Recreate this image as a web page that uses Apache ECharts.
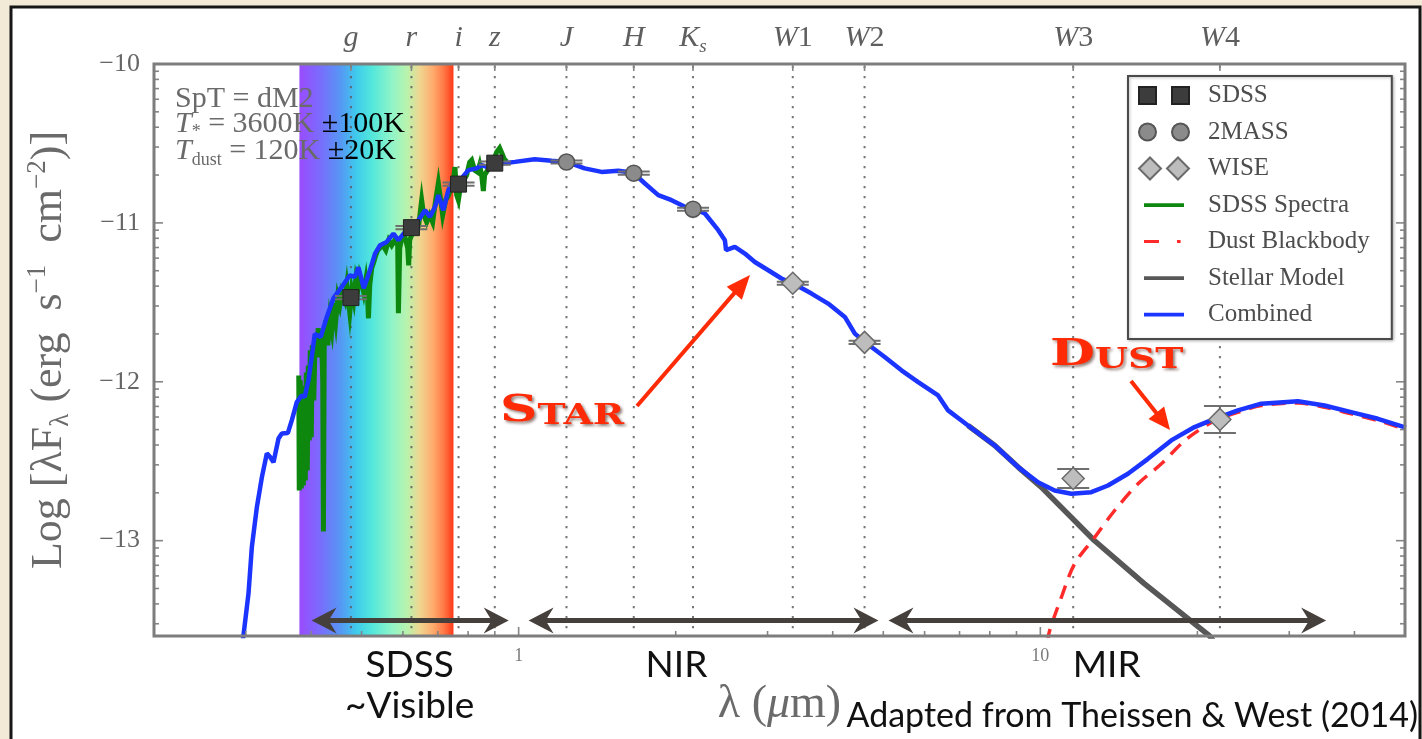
<!DOCTYPE html>
<html>
<head>
<meta charset="utf-8">
<script src="https://cdn.jsdelivr.net/npm/echarts@6/dist/echarts.min.js"></script>
<style>
  html, body { margin: 0; padding: 0; background: #f2e9d6; }
  #chart { width: 1422px; height: 739px; }
</style>
</head>
<body>
<div id="chart"></div>
<script>
// Spectral energy distribution of an M2 dwarf with a cold dust excess.
// Wavelengths in micron; fluxes are log10(lambda*F_lambda / erg s^-1 cm^-2).

const filterNames = ['g', 'r', 'i', 'z', 'J', 'H', 'Ks', 'W1', 'W2', 'W3', 'W4'];
const filterLam   = [0.477, 0.623, 0.767, 0.900, 1.235, 1.662, 2.159, 3.353, 4.603, 11.56, 22.09];

const sdssLam   = [0.477, 0.623, 0.767, 0.900];
const sdssFlux  = [-11.47, -11.03, -10.756, -10.624];
const sdssErr   = [0.01, 0.01, 0.01, 0.01];

const tmassLam  = [1.235, 1.662, 2.159];
const tmassFlux = [-10.617, -10.687, -10.914];
const tmassErr  = [0.01, 0.01, 0.01];

const wiseLam   = [3.353, 4.603, 11.56, 22.09];
const wiseFlux  = [-11.38, -11.752, -12.609, -12.237];
const wiseErr   = [0.01, 0.01, 0.06, 0.085];

// combined (stellar + dust) model
const combined = [
  [0.2960,-13.630],[0.3035,-13.333],[0.3080,-13.042],[0.3149,-12.790],[0.3220,-12.600],
  [0.3291,-12.451],[0.3334,-12.470],[0.3389,-12.506],[0.3465,-12.357],[0.3516,-12.325],
  [0.3610,-12.323],[0.3674,-12.243],[0.3756,-12.128],[0.3840,-12.086],[0.3890,-12.096],
  [0.3955,-11.991],[0.4067,-11.700],[0.4175,-11.718],[0.4288,-11.592],[0.4416,-11.474],
  [0.4581,-11.403],[0.4745,-11.330],[0.4851,-11.340],[0.4931,-11.279],[0.5048,-11.411],
  [0.5189,-11.298],[0.5305,-11.193],[0.5424,-11.141],[0.5586,-11.120],[0.5754,-11.067],
  [0.5882,-11.109],[0.6056,-11.057],[0.6237,-11.035],[0.6425,-10.983],[0.6614,-10.920],
  [0.6762,-10.962],[0.6913,-10.899],[0.7017,-10.825],[0.7173,-10.920],[0.7333,-10.794],
  [0.7497,-10.731],[0.7718,-10.731],[0.8010,-10.668],[0.8308,-10.657],[0.8494,-10.636],
  [0.8684,-10.647],[0.9007,-10.626],[0.9401,-10.624],[0.9837,-10.616],[1.073,-10.600],
  [1.157,-10.609],[1.236,-10.616],[1.338,-10.657],[1.442,-10.679],[1.552,-10.672],
  [1.659,-10.685],[1.746,-10.752],[1.852,-10.825],[1.964,-10.857],[2.083,-10.899],
  [2.167,-10.914],[2.275,-10.941],[2.413,-11.046],[2.485,-11.109],[2.498,-11.172],
  [2.597,-11.151],[2.714,-11.193],[2.836,-11.246],[3.009,-11.298],[3.190,-11.350],
  [3.359,-11.382],[3.642,-11.445],[3.920,-11.508],[4.219,-11.592],[4.410,-11.697],
  [4.608,-11.750],[5.031,-11.844],[5.417,-11.928],[5.832,-12.002],[6.368,-12.086],
  [6.655,-12.180],[7.268,-12.275],[8.178,-12.401],[9.065,-12.537],[9.899,-12.632],
  [10.65,-12.684],[11.47,-12.705],[12.52,-12.695],[13.48,-12.653],[14.72,-12.579],
  [16.08,-12.485],[17.82,-12.369],[19.75,-12.285],[21.58,-12.233],[23.91,-12.180],
  [26.51,-12.138],[31.17,-12.122],[35.05,-12.149],[39.43,-12.191],[44.37,-12.233],
  [50.2,-12.289]
];

// SDSS optical spectrum
const spectrum = [
  [0.3789,-11.960],[0.3797,-12.684],[0.3814,-11.991],[0.3831,-12.672],[0.3848,-12.054],
  [0.3866,-12.653],[0.3883,-12.023],[0.3900,-12.621],[0.3917,-11.941],[0.3934,-12.558],
  [0.3951,-11.897],[0.3969,-12.369],[0.3986,-11.802],[0.4004,-12.350],[0.4022,-11.771],
  [0.4048,-12.117],[0.4075,-11.708],[0.4102,-11.846],[0.4129,-11.663],[0.4157,-11.846],
  [0.4185,-11.676],[0.4212,-11.991],[0.4225,-12.943],[0.4240,-11.739],[0.4268,-11.613],
  [0.4306,-11.771],[0.4344,-11.601],[0.4383,-11.676],[0.4421,-11.506],[0.4461,-11.613],
  [0.4500,-11.468],[0.4540,-11.519],[0.4580,-11.437],[0.4642,-11.487],[0.4682,-11.393],
  [0.4745,-11.563],[0.4787,-11.424],[0.4829,-11.487],[0.4872,-11.361],[0.4915,-11.424],
  [0.4959,-11.330],[0.5003,-11.374],[0.5047,-11.437],[0.5092,-11.361],[0.5137,-11.487],
  [0.5153,-11.601],[0.5183,-11.393],[0.5228,-11.285],[0.5275,-11.248],[0.5322,-11.204],
  [0.5369,-11.172],[0.5416,-11.159],[0.5488,-11.141],[0.5562,-11.172],[0.5635,-11.109],
  [0.5710,-11.141],[0.5787,-11.109],[0.5863,-11.141],[0.5882,-11.569],[0.5916,-11.159],
  [0.5968,-11.096],[0.6048,-11.084],[0.6128,-11.159],[0.6155,-11.267],[0.6182,-11.109],
  [0.6265,-11.059],[0.6348,-11.015],[0.6433,-11.015],[0.6518,-10.857],[0.6576,-10.951],
  [0.6664,-10.996],[0.6752,-10.951],[0.6842,-10.996],[0.6933,-10.857],[0.7016,-10.750],
  [0.7088,-10.857],[0.7151,-10.951],[0.7246,-10.857],[0.7343,-10.825],[0.7440,-10.762],
  [0.7506,-10.718],[0.7550,-10.649],[0.7606,-10.825],[0.7664,-10.857],[0.7742,-10.762],
  [0.7845,-10.731],[0.7949,-10.699],[0.8055,-10.618],[0.8127,-10.605],[0.8235,-10.668],
  [0.8344,-10.681],[0.8418,-10.636],[0.8493,-10.699],[0.8557,-10.800],[0.8606,-10.699],
  [0.8721,-10.668],[0.8837,-10.636],[0.8955,-10.605],[0.9074,-10.555],[0.9195,-10.529],
  [0.9318,-10.573],[0.9400,-10.605],[0.9484,-10.592]
];

// photospheric model, shown where it departs from the combined fit
const stellar = [
  [7.268,-12.275],[8.178,-12.401],[9.065,-12.537],[10.04,-12.663],[12.69,-12.999],
  [15.82,-13.270],[21.08,-13.598],[21.45,-13.630]
];

// 120 K dust blackbody
const dust = [
  [10.31,-13.642],[10.42,-13.566],[10.97,-13.357],[11.63,-13.146],[12.71,-12.979],
  [13.88,-12.810],[15.39,-12.642],[17.06,-12.516],[18.63,-12.390],[19.72,-12.325],
  [21.58,-12.245],[23.91,-12.192],[26.51,-12.150],[31.17,-12.134],[35.05,-12.160],
  [39.43,-12.202],[44.37,-12.244],[50.2,-12.300]
];

const visibleBand = [0.38, 0.75];

// wavelength ranges marked under the curve
const rangeNames = ['SDSS\n~Visible', 'NIR', 'MIR'];
const rangeFrom  = [0.401, 1.045, 5.116];
const rangeTo    = [0.957, 4.894, 35.3];
const rangeLabelAt = [0.618, 2.007, 13.4];
const rangeLevel = -13.503;

// axis ticks
const xMin = 0.2, xMax = 50, yMin = -13.6, yMax = -10;
const yTickValues = [-13, -12, -11, -10];
const xMajorTicks = [1, 10];
const xMinorTicks = [0.3, 0.4, 0.5, 0.6, 0.7, 0.8, 0.9, 2, 3, 4, 5, 6, 7, 8, 9, 20, 30, 40];
const yMinorTicks = [];
[-14, -13, -12, -11].forEach(function (n) {
  for (let k = 2; k <= 9; k++) {
    const v = n + Math.log10(k);
    if (v > yMin && v < yMax) yMinorTicks.push(v);
  }
});

const serif = '"Liberation Serif", "DejaVu Serif", serif';
const sans = 'Lato, "Open Sans", sans-serif';
const axisGrey = '#666';

const chart = echarts.init(document.getElementById('chart'), null, { renderer: 'canvas' });

function pairs(xs, ys) { return xs.map(function (x, i) { return [x, ys[i]]; }); }

const errRows = []
  .concat(sdssLam.map(function (x, i) { return [x, sdssFlux[i], sdssErr[i]]; }))
  .concat(tmassLam.map(function (x, i) { return [x, tmassFlux[i], tmassErr[i]]; }))
  .concat(wiseLam.map(function (x, i) { return [x, wiseFlux[i], wiseErr[i]]; }));

function filterLabelText(name) {
  if (name === 'Ks') return '{it|K}{sub|s}';
  if (name.charAt(0) === 'W') return '{it|W}{up|' + name.slice(1) + '}';
  return '{it|' + name + '}';
}

function arrowEls(x1, y1, x2, y2, color, w, hl, hw) {
  const dx = x2 - x1, dy = y2 - y1, len = Math.hypot(dx, dy);
  const ux = dx / len, uy = dy / len;
  const bx = x2 - ux * hl, by = y2 - uy * hl;
  return [
    { type: 'line', z: 100, silent: true, shape: { x1: x1, y1: y1, x2: bx + ux * 3, y2: by + uy * 3 },
      style: { stroke: color, lineWidth: w } },
    { type: 'polygon', z: 100, silent: true,
      shape: { points: [[x2, y2], [bx - uy * hw, by + ux * hw], [bx + uy * hw, by - ux * hw]] },
      style: { fill: color } }
  ];
}

// legend keys: paired markers and short line samples
const legendSquares  = 'path://M0,0h17v17h-17z M33,0h17v17h-17z';
const legendCircles  = 'path://M0,8.5A8.5,8.5,0,1,1,17,8.5A8.5,8.5,0,1,1,0,8.5Z M33,8.5A8.5,8.5,0,1,1,50,8.5A8.5,8.5,0,1,1,33,8.5Z';
const legendDiamonds = 'path://M0,11L11,0L22,11L11,22Z M28,11L39,0L50,11L39,22Z';
const legendLine     = 'path://M0,0M50,4M5,0.3h40v3.6h-40z';
const legendDashDot  = 'path://M0,0M50,4M5,0.4h15v3.2h-15z M38,0.4h3.6v3.2h-3.6z';

const redAnno = '#ff2a06';
const annoShadow = { textShadowColor: 'rgba(60,20,10,0.55)', textShadowBlur: 3, textShadowOffsetX: 2, textShadowOffsetY: 2 };
const noteGrey = '#6a6a6a';

const option = {
  animation: false,
  backgroundColor: '#f2e9d6',
  grid: { left: 154, right: 17, top: 64, bottom: 103, outerBoundsMode: 'none', show: false },
  legend: {
    show: true,
    selectedMode: false,
    orient: 'vertical',
    left: 1128,
    top: 76,
    padding: [7, 22, 12, 10],
    itemWidth: 50,
    itemHeight: 22,
    itemGap: 11.5,
    backgroundColor: '#ffffff',
    borderColor: '#4a4a4a',
    borderWidth: 2,
    borderRadius: 0,
    shadowColor: 'rgba(0,0,0,0.25)',
    shadowBlur: 3,
    shadowOffsetX: 1,
    shadowOffsetY: 1,
    textStyle: { fontFamily: serif, fontSize: 25, color: '#4d4d4d', lineHeight: 24, padding: [0, 0, 0, 14] },
    data: [
      { name: 'SDSS', icon: legendSquares },
      { name: '2MASS', icon: legendCircles },
      { name: 'WISE', icon: legendDiamonds },
      { name: 'SDSS Spectra', icon: legendLine },
      { name: 'Dust Blackbody', icon: legendDashDot },
      { name: 'Stellar Model', icon: legendLine },
      { name: 'Combined', icon: legendLine }
    ]
  },
  xAxis: {
    type: 'log', logBase: 10, min: xMin, max: xMax,
    axisLine: { show: false }, axisTick: { show: false }, splitLine: { show: false },
    axisLabel: {
      showMinLabel: false, showMaxLabel: false, margin: 11,
      fontFamily: serif, fontSize: 18, color: '#7a7a7a',
      formatter: function (v) { return String(v); }
    },
    name: '{n|λ (}{i|μ}{n|m)}',
    nameLocation: 'middle',
    nameGap: 46,
    nameTextStyle: {
      rich: {
        n: { fontFamily: serif, fontSize: 46, color: '#6a6a6a' },
        i: { fontFamily: serif, fontSize: 46, fontStyle: 'italic', color: '#6a6a6a' }
      }
    }
  },
  yAxis: {
    type: 'value', min: yMin, max: yMax,
    axisLine: { show: false }, axisTick: { show: false }, splitLine: { show: false },
    axisLabel: {
      customValues: yTickValues, margin: 14,
      fontFamily: serif, fontSize: 26, color: axisGrey,
      formatter: function (v) { return (v < 0 ? '\u2212' : '') + Math.abs(Math.round(v)); }
    },
    name: '{n|Log [λF}{sub|λ}{n| (erg  s}{sup|\u22121}{n|  cm}{sup|\u22122}{n|)]}',
    nameLocation: 'middle',
    nameGap: 80,
    nameTextStyle: {
      rich: {
        n: { fontFamily: serif, fontSize: 44, color: '#6a6a6a', lineHeight: 50 },
        sub: { fontFamily: serif, fontSize: 27, color: '#6a6a6a', verticalAlign: 'bottom', lineHeight: 50 },
        sup: { fontFamily: serif, fontSize: 27, color: '#6a6a6a', verticalAlign: 'top', lineHeight: 50 }
      }
    }
  },
  series: [
    {
      // visible-light colour band
      type: 'custom', name: 'visible', z: 1, silent: true,
      data: [visibleBand],
      renderItem: function (params, api) {
        const p0 = api.coord([api.value(0), yMax]);
        const p1 = api.coord([api.value(1), yMin]);
        return {
          type: 'rect',
          shape: { x: p0[0], y: p0[1], width: p1[0] - p0[0], height: p1[1] - p0[1] },
          style: {
            fill: new echarts.graphic.LinearGradient(0, 0, 1, 0, [
              { offset: 0.00, color: '#9a4cff' },
              { offset: 0.12, color: '#7d68fd' },
              { offset: 0.27, color: '#5598f4' },
              { offset: 0.37, color: '#3fcbec' },
              { offset: 0.47, color: '#52e7db' },
              { offset: 0.60, color: '#90f4c8' },
              { offset: 0.70, color: '#b9f3ad' },
              { offset: 0.78, color: '#efd691' },
              { offset: 0.87, color: '#ffaa6c' },
              { offset: 0.94, color: '#ff7644' },
              { offset: 1.00, color: '#ff3818' }
            ])
          }
        };
      }
    },
    {
      // dotted filter lines
      type: 'custom', name: 'filters', z: 2, silent: true,
      data: filterLam.map(function (x) { return [x, yMin]; }),
      renderItem: function (params, api) {
        const cs = params.coordSys;
        const x = api.coord([api.value(0), yMin])[0];
        return {
          type: 'line',
          shape: { x1: x, y1: cs.y + 2, x2: x, y2: cs.y + cs.height },
          style: { stroke: '#5e5e5e', lineWidth: 2, lineDash: [2.2, 7.8], opacity: 0.85 }
        };
      }
    },
    {
      type: 'line', name: 'Stellar Model', z: 3, data: stellar,
      symbol: 'none', clip: true,
      lineStyle: { color: '#575757', width: 5.5 }, itemStyle: { color: '#575757' }
    },
    {
      type: 'line', name: 'Dust Blackbody', z: 3, data: dust,
      symbol: 'none', clip: true, smooth: 0.3,
      lineStyle: { color: '#ff2b2b', width: 3.5, type: [14, 9] }, itemStyle: { color: '#ff2b2b' }
    },
    {
      type: 'line', name: 'SDSS Spectra', z: 4, data: spectrum,
      symbol: 'none', clip: true,
      lineStyle: { color: '#0d870d', width: 5, join: 'miter' }, itemStyle: { color: '#0d870d' }
    },
    {
      type: 'line', name: 'Combined', z: 5, data: combined,
      symbol: 'none', clip: true,
      lineStyle: { color: '#1b34ff', width: 4.5 }, itemStyle: { color: '#1b34ff' }
    },
    {
      // photometric error bars
      type: 'custom', name: 'errors', z: 6, silent: true,
      data: errRows,
      renderItem: function (params, api) {
        const x = api.value(0), v = api.value(1), e = api.value(2);
        const hi = api.coord([x, v + e]);
        const lo = api.coord([x, v - e]);
        const st = { stroke: '#6f6f6f', lineWidth: 2 };
        return {
          type: 'group',
          children: [
            { type: 'line', shape: { x1: hi[0], y1: hi[1], x2: lo[0], y2: lo[1] }, style: st },
            { type: 'line', shape: { x1: hi[0] - 16, y1: hi[1], x2: hi[0] + 16, y2: hi[1] }, style: st },
            { type: 'line', shape: { x1: lo[0] - 16, y1: lo[1], x2: lo[0] + 16, y2: lo[1] }, style: st }
          ]
        };
      }
    },
    {
      type: 'scatter', name: 'SDSS', z: 7, data: pairs(sdssLam, sdssFlux),
      symbol: 'rect', symbolSize: 16,
      itemStyle: { color: '#3c3c3c', borderColor: '#222', borderWidth: 1, opacity: 1 }
    },
    {
      type: 'scatter', name: '2MASS', z: 7, data: pairs(tmassLam, tmassFlux),
      symbol: 'circle', symbolSize: 16,
      itemStyle: { color: '#8b8b8b', borderColor: '#555', borderWidth: 1.5, opacity: 1 }
    },
    {
      type: 'scatter', name: 'WISE', z: 7, data: pairs(wiseLam, wiseFlux),
      symbol: 'diamond', symbolSize: [22, 22],
      itemStyle: { color: '#bdbdbd', borderColor: '#6a6a6a', borderWidth: 1.5, opacity: 1 }
    },
    {
      // plot frame, ticks and filter names along the top
      type: 'custom', name: 'frame', z: 8, silent: true,
      data: [[1, -12]],
      renderItem: function (params, api) {
        const cs = params.coordSys;
        const L = cs.x, R = cs.x + cs.width, T = cs.y, B = cs.y + cs.height;
        const st = { stroke: '#858585', lineWidth: 1.6 };
        const ch = [];
        function seg(x1, y1, x2, y2) { ch.push({ type: 'line', shape: { x1: x1, y1: y1, x2: x2, y2: y2 }, style: st }); }
        xMajorTicks.forEach(function (v) { const x = api.coord([v, yMin])[0]; seg(x, B, x, B - 9); });
        xMinorTicks.forEach(function (v) { const x = api.coord([v, yMin])[0]; seg(x, B, x, B - 5); });
        filterLam.forEach(function (v) { const x = api.coord([v, yMin])[0]; seg(x, T, x, T + 7); });
        yTickValues.forEach(function (v) { const y = api.coord([1, v])[1]; seg(L, y, L + 9, y); seg(R, y, R - 9, y); });
        yMinorTicks.forEach(function (v) { const y = api.coord([1, v])[1]; seg(L, y, L + 5, y); seg(R, y, R - 5, y); });
        ch.push({ type: 'rect', shape: { x: L, y: T, width: R - L, height: B - T },
                  style: { fill: null, stroke: '#7d7d7d', lineWidth: 3 } });
        filterLam.forEach(function (v, i) {
          const x = api.coord([v, yMin])[0];
          ch.push({
            type: 'text',
            style: {
              x: x, y: T - 26, align: 'center', verticalAlign: 'middle',
              text: filterLabelText(filterNames[i]),
              rich: {
                it: { fontFamily: serif, fontSize: 30, fontStyle: 'italic', fill: '#5e5e5e' },
                up: { fontFamily: serif, fontSize: 30, fill: '#5e5e5e' },
                sub: { fontFamily: serif, fontSize: 19, fontStyle: 'italic', fill: '#5e5e5e', verticalAlign: 'bottom', lineHeight: 36 }
              }
            }
          });
        });
        return { type: 'group', children: ch };
      }
    },
    {
      // wavelength-range arrows and their names
      type: 'custom', name: 'ranges', z: 9, silent: true,
      data: rangeFrom.map(function (a, i) { return [a, rangeTo[i]]; }),
      renderItem: function (params, api) {
        const cs = params.coordSys;
        const B = cs.y + cs.height;
        const i = params.dataIndex;
        const a = api.coord([api.value(0), rangeLevel]);
        const b = api.coord([api.value(1), rangeLevel]);
        const y = a[1], x1 = a[0], x2 = b[0];
        const col = '#46403d';
        const lx = api.coord([rangeLabelAt[i], rangeLevel])[0];
        return {
          type: 'group',
          children: [
            { type: 'line', shape: { x1: x1 + 16, y1: y, x2: x2 - 16, y2: y }, style: { stroke: col, lineWidth: 5 } },
            { type: 'polygon', shape: { points: [[x1, y], [x1 + 25, y - 13], [x1 + 17, y], [x1 + 25, y + 13]] }, style: { fill: col } },
            { type: 'polygon', shape: { points: [[x2, y], [x2 - 25, y - 13], [x2 - 17, y], [x2 - 25, y + 13]] }, style: { fill: col } },
            { type: 'text', style: { x: lx, y: B + 9, align: 'center', verticalAlign: 'top',
                text: rangeNames[i], fontFamily: sans, fontSize: 37, lineHeight: 41, fill: '#111' } }
          ]
        };
      }
    }
  ],
  graphic: [
    { type: 'rect', z: -10, silent: true, shape: { x: 11, y: 7, width: 1409, height: 745 },
      style: { fill: '#ffffff', stroke: '#161616', lineWidth: 3 } },
    { type: 'text', z: 50, silent: true, x: 175, y: 99,
      style: { text: 'SpT = dM2', fontFamily: serif, fontSize: 30, fill: noteGrey, align: 'left', verticalAlign: 'middle' } },
    { type: 'text', z: 50, silent: true, x: 175, y: 124,
      style: {
        text: '{i|T}{s|*}{g| = 3600K }{b|±100K}', align: 'left', verticalAlign: 'middle',
        rich: {
          i: { fontFamily: serif, fontSize: 30, fontStyle: 'italic', fill: noteGrey, lineHeight: 34 },
          s: { fontFamily: serif, fontSize: 18, fill: noteGrey, verticalAlign: 'bottom', lineHeight: 34 },
          g: { fontFamily: serif, fontSize: 30, fill: noteGrey, lineHeight: 34 },
          b: { fontFamily: serif, fontSize: 30, fill: '#000000', lineHeight: 34 }
        }
      } },
    { type: 'text', z: 50, silent: true, x: 175, y: 151,
      style: {
        text: '{i|T}{s|dust}{g| = 120K }{b|±20K}', align: 'left', verticalAlign: 'middle',
        rich: {
          i: { fontFamily: serif, fontSize: 30, fontStyle: 'italic', fill: noteGrey, lineHeight: 36 },
          s: { fontFamily: serif, fontSize: 18, fill: noteGrey, verticalAlign: 'bottom', lineHeight: 36 },
          g: { fontFamily: serif, fontSize: 30, fill: noteGrey, lineHeight: 36 },
          b: { fontFamily: serif, fontSize: 30, fill: '#000000', lineHeight: 36 }
        }
      } },
    { type: 'text', z: 100, silent: true, x: 500, y: 430, scaleX: 1.4,
      style: Object.assign({
        text: '{b|S}{s|TAR}', align: 'left', verticalAlign: 'bottom',
        rich: {
          b: { fontFamily: '"DejaVu Serif", serif', fontWeight: 'bold', fontSize: 37, fill: redAnno, verticalAlign: 'bottom' },
          s: { fontFamily: '"DejaVu Serif", serif', fontWeight: 'bold', fontSize: 27, fill: redAnno, verticalAlign: 'bottom' }
        }
      }, annoShadow) },
    { type: 'text', z: 100, silent: true, x: 1050, y: 374, scaleX: 1.4,
      style: Object.assign({
        text: '{b|D}{s|UST}', align: 'left', verticalAlign: 'bottom',
        rich: {
          b: { fontFamily: '"DejaVu Serif", serif', fontWeight: 'bold', fontSize: 37, fill: redAnno, verticalAlign: 'bottom' },
          s: { fontFamily: '"DejaVu Serif", serif', fontWeight: 'bold', fontSize: 27, fill: redAnno, verticalAlign: 'bottom' }
        }
      }, annoShadow) },
    { type: 'text', z: 100, silent: true, x: 1418, y: 716,
      style: { text: 'Adapted from Theissen & West (2014)', fontFamily: sans, fontSize: 34,
               fill: '#111', align: 'right', verticalAlign: 'middle' } }
  ]
    .concat(arrowEls(637, 406, 750, 275, redAnno, 4, 24, 10))
    .concat(arrowEls(1131, 381, 1170, 430, redAnno, 4, 22, 10))
};

chart.setOption(option);
</script>
</body>
</html>
